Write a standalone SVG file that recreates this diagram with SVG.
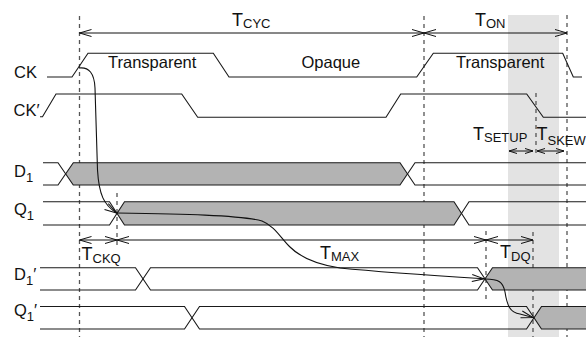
<svg xmlns="http://www.w3.org/2000/svg" width="586" height="337" viewBox="0 0 586 337">
<style>
.sig{fill:none;stroke:#1a1a1a;stroke-width:1.1}
.gf{fill:#b3b3b3;stroke:none}
.dash{fill:none;stroke:#555;stroke-width:1.3;stroke-dasharray:4 4}
.arr{fill:none;stroke:#111;stroke-width:1;marker-start:url(#ah);marker-end:url(#ah)}
.arrs{fill:none;stroke:#111;stroke-width:1;marker-start:url(#ahs);marker-end:url(#ahs)}
.cur{fill:none;stroke:#111;stroke-width:1.1;marker-end:url(#ah)}
text{font-family:"Liberation Sans",Arial,sans-serif;fill:#111}
.lb{font-size:16.5px}
.tt{font-size:18px}
.sb{font-size:13px}
</style>
<defs>
<marker id="ah" markerUnits="userSpaceOnUse" markerWidth="16" markerHeight="10" refX="0" refY="0" viewBox="-14 -5 16 10" orient="auto-start-reverse" overflow="visible">
<path d="M-12,-3.5 L0,0 L-12,3.5" fill="none" stroke="#111" stroke-width="1"/>
</marker>
<marker id="ahs" markerUnits="userSpaceOnUse" markerWidth="12" markerHeight="8" refX="0" refY="0" viewBox="-10 -4 12 8" orient="auto-start-reverse" overflow="visible">
<path d="M-8,-2.5 L0,0 L-8,2.5" fill="none" stroke="#111" stroke-width="1"/>
</marker>
</defs>

<rect id="window" x="508" y="15" width="51" height="322" fill="#e3e3e3"/>

<g id="guides">
<line class="dash" x1="79.5" y1="16" x2="79.5" y2="337"/>
<line class="dash" x1="424" y1="16" x2="424" y2="337"/>
<line class="dash" x1="567" y1="15" x2="567" y2="337"/>
<line class="dash" x1="117" y1="193" x2="117" y2="248"/>
<line class="dash" x1="486" y1="231" x2="486" y2="300"/>
<line class="dash" x1="533" y1="232" x2="533" y2="337"/>
<line class="dash" x1="536" y1="93" x2="536" y2="153"/>
</g>

<g id="CK">
<text class="lb" x="14" y="77.5">CK</text>
<path class="sig" d="M47,77 H72 L88,53.3 H213.3 L229,77 H416.7 L433.3,53.3 H562.7 L573.3,77 H582"/>
<text class="lb" x="108" y="68.3">Transparent</text>
<text class="lb" x="301.5" y="68.3">Opaque</text>
<text class="lb" x="456" y="68.3">Transparent</text>
</g>

<g id="CKp">
<text class="lb" x="13.5" y="116">CK′</text>
<path class="sig" d="M40,116.7 H42.5 L56,94 H181.7 L197.7,117.3 H386 L400.7,94 H526.7 L543.3,117.3 H586"/>
</g>

<g id="D1">
<text class="lb" x="14" y="177">D<tspan class="sb" dy="5">1</tspan></text>
<polygon class="gf" points="65.7,173.9 73.3,162.7 400,162.7 407.5,173.9 400,185 73.3,185"/>
<path class="sig" d="M43,162.7 H58 L73.3,185 H400 L415,162.7 H586"/>
<path class="sig" d="M43,185 H58 L73.3,162.7 H400 L415,185 H586"/>
</g>

<g id="Q1">
<text class="lb" x="14" y="214.5">Q<tspan class="sb" dy="5">1</tspan></text>
<polygon class="gf" points="117,213.3 124.5,201.7 454,201.7 461.5,213.3 454,225 124.5,225"/>
<path class="sig" d="M43,201.7 H109.5 L124.5,225 H454 L469,201.7 H586"/>
<path class="sig" d="M43,225 H109.5 L124.5,201.7 H454 L469,225 H586"/>
</g>

<g id="D1p">
<text class="lb" x="14" y="280">D<tspan class="sb" dy="5">1</tspan><tspan dy="-5">′</tspan></text>
<polygon class="gf" points="485,278.8 492.5,267.7 586,267.7 586,290 492.5,290"/>
<path class="sig" d="M40,267.7 H135.5 L150.5,290 H477.5 L492.5,267.7 H586"/>
<path class="sig" d="M40,290 H135.5 L150.5,267.7 H477.5 L492.5,290 H586"/>
</g>

<g id="Q1p">
<text class="lb" x="14" y="316">Q<tspan class="sb" dy="5">1</tspan><tspan dy="-5">′</tspan></text>
<polygon class="gf" points="534,317.7 541.5,306.5 586,306.5 586,329 541.5,329"/>
<path class="sig" d="M40,306.5 H184.5 L199.5,329 H526.5 L541.5,306.5 H586"/>
<path class="sig" d="M40,329 H184.5 L199.5,306.5 H526.5 L541.5,329 H586"/>
</g>

<g id="connectors">
<line class="arr" x1="79.5" y1="33" x2="424" y2="33"/>
<line class="arr" x1="424" y1="33" x2="567" y2="33"/>
<line class="arr" x1="79.5" y1="240" x2="117" y2="240"/>
<line class="arr" x1="117" y1="240" x2="486" y2="240"/>
<line class="arr" x1="486" y1="240" x2="533" y2="240"/>
<line class="arrs" x1="509" y1="151" x2="533" y2="151"/>
<line class="arrs" x1="537" y1="151" x2="564" y2="151"/>
<path class="cur" d="M79,68 Q94,66 95,88 L97.5,170 C99,195 104,205 116.5,213"/>
<path class="cur" d="M117,213 C180,214 240,215 262,221 C275,226 282,240 290,247 C302,259 320,265 340,268 C380,272 440,276 484,278.8"/>
<path class="cur" d="M485,279 C499,279 503,282 505,292 C507,305 510,313 520,314 L533,317.5"/>
</g>

<g id="labels">
<text class="tt" x="232" y="26">T<tspan class="sb" dy="1.5">CYC</tspan></text>
<text class="tt" x="475" y="26">T<tspan class="sb" dy="1.5">ON</tspan></text>
<text class="tt" x="473" y="140">T<tspan class="sb" dy="2">SETUP</tspan></text>
<text class="tt" x="536.5" y="140">T<tspan class="sb" dy="5">SKEW</tspan></text>
<text class="tt" x="81.5" y="260">T<tspan class="sb" dy="3">CKQ</tspan></text>
<text class="tt" x="320" y="259">T<tspan class="sb" dy="2">MAX</tspan></text>
<text class="tt" x="500" y="258">T<tspan class="sb" dy="3">DQ</tspan></text>
</g>
</svg>
